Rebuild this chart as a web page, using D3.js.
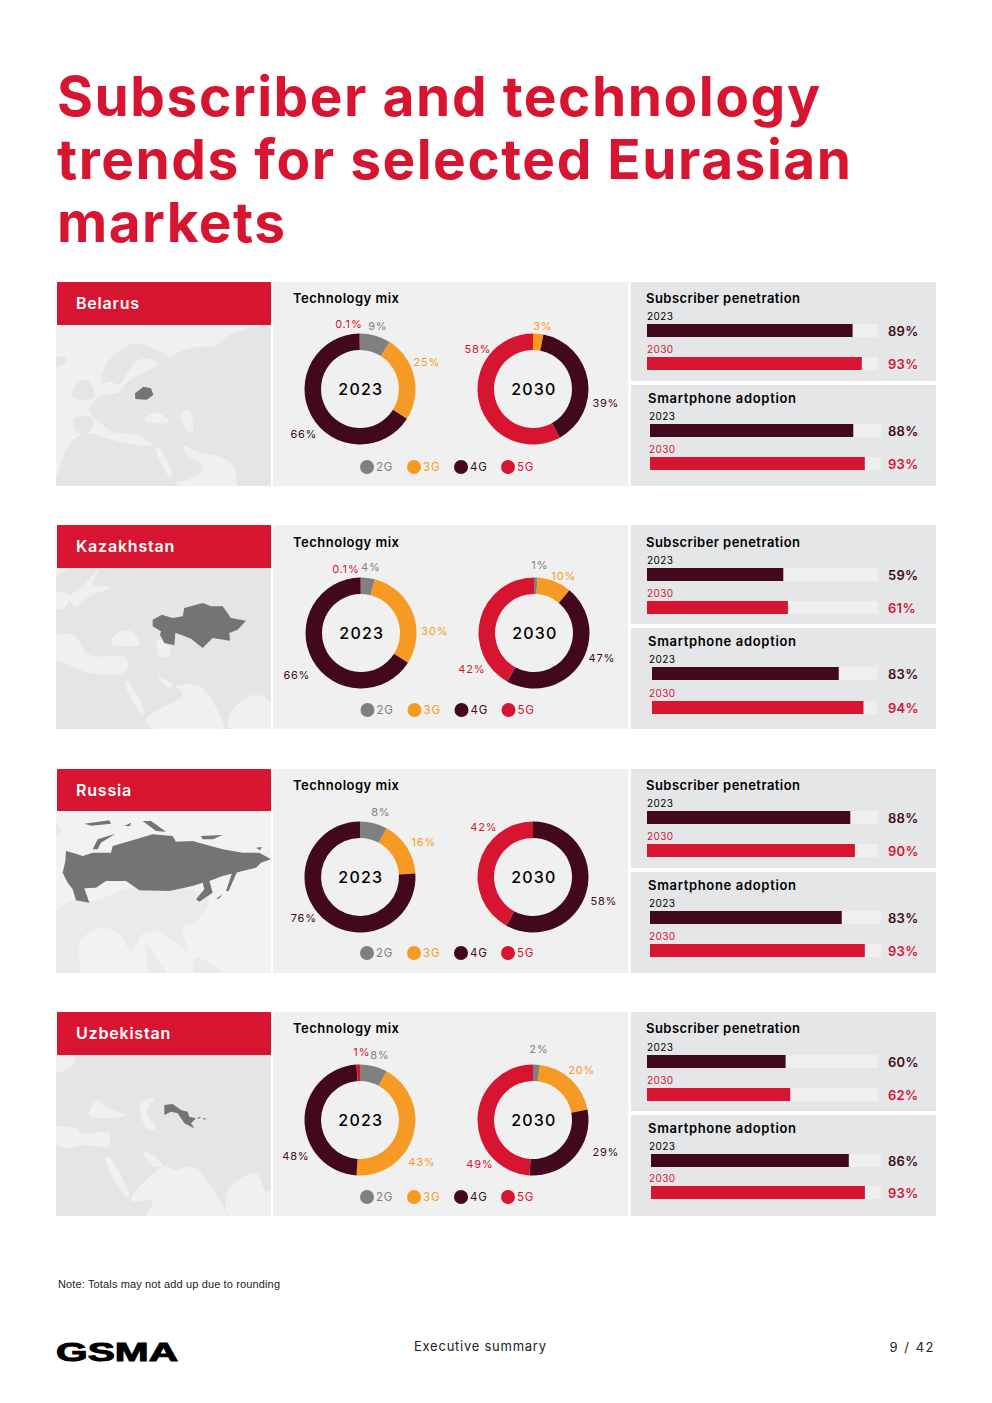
<!DOCTYPE html>
<html><head><meta charset="utf-8">
<script src="https://cdn.jsdelivr.net/npm/d3@7"></script>
<style>html,body{margin:0;padding:0;background:#fff}svg{display:block}text{font-family:Inter,"Noto Sans",sans-serif}</style>
</head><body><svg id="c" width="992" height="1403"></svg>
<script>
// ---- data ----
const titleLines = ["Subscriber and technology", "trends for selected Eurasian", "markets"];
const countries = ["Belarus", "Kazakhstan", "Russia", "Uzbekistan"];
const technologies = ["2G", "3G", "4G", "5G"];
const years = ["2023", "2030"];
const mix2023 = [[9, 25, 66, 0.1], [4, 30, 66, 0.1], [8, 16, 76, 0], [8, 43, 48, 1]];
const mix2030 = [[0, 3, 39, 58], [1, 10, 47, 42], [0, 0, 58, 42], [2, 20, 29, 49]];
const subscriber2023 = [89, 59, 88, 60];
const subscriber2030 = [93, 61, 90, 62];
const smartphone2023 = [88, 83, 83, 86];
const smartphone2030 = [93, 94, 93, 93];

// ---- layout (positions only, no values) ----
const C = {red:"#D71530", dark:"#41091B", orange:"#F79A24", gray:"#808080", panel:"#F0F0F0", side:"#E5E6E8", track:"#EFEFF0", land:"#E5E5E5", sea:"#F0F0F0", country:"#747474"};
const techColor = d3.scaleOrdinal(technologies, [C.gray, C.orange, C.dark, C.red]);
const rowTop = [282, 525, 769, 1012];
const headerH = [43, 43, 42, 43];
const titleDY = [21, 22, 21, 21];
const donutX = [[360, 533], [361, 534], [360, 533], [360, 533]];
const donutDY = [107, 108, 108, 108];
const legendDY = [185, 185, 184, 185];
const subBarY = [[42, 75], [43, 76], [42, 75], [43, 76]];
const smartBarY = [[142, 175], [142, 176], [142, 175], [142, 174]];
const smartX = [[650, 881], [652, 877], [650, 881], [651, 881]];
const labelPos2023 = [
  [[17,-63],[66,-27],[-57,45],[-12,-65]],
  [[9,-66],[73,-2],[-65,42],[-16,-64]],
  [[20,-65],[63,-35],[-57,41],null],
  [[19,-65],[61,42],[-65,36],[1,-68]]];
const labelPos2030 = [
  [null,[9,-63],[72,14],[-56,-40]],
  [[5,-68],[29,-57],[67,25],[-63,36]],
  [null,null,[70,24],[-50,-50]],
  [[5,-71],[48,-50],[72,32],[-54,44]]];

// decorative base-map shapes, in 3x units of the map panel
const maps = [
 {bg:C.sea, landFill:"#E5E5E5", land:[
   "135,160 150,120 185,80 240,55 290,70 335,95 320,115 270,100 240,110 210,150 190,180 165,170 140,175",
   "100,255 130,215 190,200 215,170 250,150 300,125 340,95 400,70 480,60 520,30 600,5 660,0 660,500 555,500 530,420 490,395 440,385 380,365 400,395 440,420 430,445 350,470 300,370 240,330 170,320 130,290",
   "10,430 40,360 90,325 170,345 240,360 300,370 350,465 380,500 0,500",
   "50,215 65,170 95,165 115,215 85,225","55,280 110,280 100,320 60,322","-10,100 30,98 25,115 -10,125",
   "585,500 590,420 660,415 660,500"],
  sea:["265,285 300,262 340,290 300,295","375,265 400,258 410,320 392,315","395,45 430,5 455,5 420,50","380,365 395,365 425,395 400,395","300,370 310,370 350,455 340,455"],
  country:["237,205 250,195 262,185 285,190 292,210 272,224 238,222"]},
 {bg:C.land, landFill:C.land, land:[], sea:[
   "165,225 185,195 225,190 250,230 180,232","-10,210 50,200 100,260 210,270 210,310 100,315 40,290 -10,265",
   "305,215 340,235 340,265 310,265","205,340 215,340 265,435 255,435","305,325 350,350 345,360 320,345",
   "270,455 380,380 360,355 430,355 470,400 500,500 320,500","520,440 600,380 660,420 660,500 530,500",
   "85,50 130,0 110,50 165,58 100,85 60,115 40,90","-10,30 40,-10 -10,-10","-10,75 40,80 25,120 -10,122"],
  country:["290,155 318,140 350,150 380,145 385,120 440,105 465,115 500,115 525,150 570,158 545,185 520,195 522,218 470,210 440,240 405,212 375,200 358,195 355,232 325,225 312,200 315,190 290,175"]},
 {bg:"#F2F2F2", landFill:"#EAEAEA", land:[
   "-10,320 40,270 110,270 230,230 420,240 460,270 420,330 380,350 395,420 350,390 300,360 260,370 225,420 190,370 130,350 70,395 70,500 -10,500",
   "-10,30 20,60 -10,80","270,400 300,440 340,500 290,500","400,310 420,290 415,340","420,440 480,470 520,500 420,500"],
  sea:[],
  country:[
   "30,120 50,125 80,135 110,125 165,125 170,105 240,85 290,70 350,75 360,92 410,90 445,100 500,115 560,125 610,125 645,145 615,155 600,170 560,180 500,195 460,210 470,245 430,272 420,265 445,235 440,215 410,225 340,240 250,238 210,210 150,210 120,230 85,232 100,275 60,268 50,235 35,215 20,185 28,150",
   "110,115 125,85 178,68 135,95 125,115","85,38 160,28 165,38 105,44","260,30 285,30 330,62 300,60","435,75 500,72 470,85 440,85",
   "530,180 545,178 518,240 510,240","478,265 500,250 490,262","600,110 618,108 612,118","205,45 225,35 222,45"]},
 {bg:C.land, landFill:C.land, land:[], sea:[
   "100,180 125,135 150,155 205,180 170,190","255,145 295,130 270,170 300,220 275,225",
   "-10,220 60,220 75,235 160,235 155,275 90,270 30,280 -10,260","148,308 160,308 220,425 210,425","260,290 275,290 320,330 295,335",
   "225,435 330,330 350,345 410,335 455,380 505,465 510,500 270,500 290,440","515,405 600,355 630,410 660,400 660,500 525,500","-10,10 40,-5 60,15 20,50 -10,50"],
  country:["325,150 350,147 375,165 395,170 400,185 420,190 405,205 415,220 385,205 365,175 345,170 325,180","428,185 435,187 425,193","440,190 452,190 445,194"]}
];

// ---- draw ----
const svg = d3.select("#c");
const text = (g, x, y, s, o = {}) => {
  const t = g.append("text").attr("x", x).attr("y", y).text(s)
    .attr("font-size", o.size || 11).attr("font-weight", o.weight || 400)
    .attr("fill", o.fill || "#000").attr("text-anchor", o.anchor || "start");
  if (o.spacing) t.attr("letter-spacing", o.spacing);
  if (o.family) t.style("font-family", o.family);
  if (o.len) t.attr("textLength", o.len).attr("lengthAdjust", o.adjust || "spacing");
  return t;
};

const titleLen = [763, 794, 228];
titleLines.forEach((l, i) => text(svg, 57, 116 + i * 63, l, {size: 55, weight: 700, fill: C.red, len: titleLen[i]}));

const pie = d3.pie().sort(null).startAngle(0).endAngle(2 * Math.PI);
const arc = d3.arc().innerRadius(39).outerRadius(55.5);
const parsePts = p => p.split(" ").map(q => q.split(",").map(Number));
const smooth = d3.line().curve(d3.curveCatmullRomClosed.alpha(0.5));
const sharp = d3.line().curve(d3.curveLinearClosed);

countries.forEach((name, r) => {
  const top = rowTop[r];
  const g = svg.append("g");
  // map panel
  const m = maps[r];
  const mapY = top + headerH[r];
  const clipId = "clip" + r;
  svg.append("clipPath").attr("id", clipId).append("rect").attr("x", 56).attr("y", mapY).attr("width", 215).attr("height", 204 - headerH[r]);
  const mg = g.append("g").attr("clip-path", `url(#${clipId})`);
  mg.append("rect").attr("x", 56).attr("y", mapY).attr("width", 215).attr("height", 204 - headerH[r]).attr("fill", m.bg);
  const inner = mg.append("g").attr("transform", `translate(56,${mapY}) scale(${1/3})`);
  const draw = (list, fill, gen) => list.forEach(p => inner.append("path").attr("d", gen(parsePts(p))).attr("fill", fill));
  draw(m.land, m.landFill, smooth); draw(m.sea, C.sea, smooth); draw(m.country, C.country, sharp);
  g.append("rect").attr("x", 57).attr("y", top).attr("width", 214).attr("height", headerH[r]).attr("fill", C.red);
  text(g, 76, top + 27, name, {size: 16, weight: 600, fill: "#fff", spacing: 0.8});

  // technology panel
  g.append("rect").attr("x", 273).attr("y", top).attr("width", 355).attr("height", 204).attr("fill", C.panel);
  text(g, 293, top + titleDY[r], "Technology mix", {size: 13, weight: 600, len: 106});
  [mix2023[r], mix2030[r]].forEach((vals, y) => {
    const cx = donutX[r][y], cy = top + donutDY[r];
    const dg = g.append("g").attr("transform", `translate(${cx},${cy})`);
    dg.selectAll("path").data(pie(vals)).join("path").attr("d", arc).attr("fill", (d, i) => techColor(technologies[i]));
    text(dg, 0.8, 6, years[y], {size: 16, weight: 500, anchor: "middle", spacing: 1.2});
    const pos = (y ? labelPos2030 : labelPos2023)[r];
    vals.forEach((v, i) => {
      if (!v || !pos[i]) return;
      text(dg, pos[i][0] + 0.8, pos[i][1] + 4, v + "%", {size: 11, fill: techColor(technologies[i]), anchor: "middle", spacing: 0.8});
    });
  });
  // legend
  const ly = top + legendDY[r];
  const lx0 = r === 1 ? 367.5 : 367;
  technologies.forEach((t, i) => {
    g.append("circle").attr("cx", lx0 + i * 47).attr("cy", ly).attr("r", 7).attr("fill", techColor(t));
    text(g, lx0 + i * 47 + 9, ly + 4, t, {size: 11.5, fill: techColor(t), spacing: 0.8});
  });

  // right panels
  g.append("rect").attr("x", 631).attr("y", top).attr("width", 305).attr("height", 99).attr("fill", C.side);
  g.append("rect").attr("x", 631).attr("y", top + 103).attr("width", 305).attr("height", 101).attr("fill", C.side);
  const block = (title, tx, tyTitle, lx, xr, barYs, vals) => {
    const x = d3.scaleLinear().domain([0, 100]).range(xr);
    text(g, tx, tyTitle, title, {size: 13, weight: 600, len: title.length > 20 ? 154 : 148});
    vals.forEach((v, i) => {
      const by = top + barYs[i], col = i ? C.red : C.dark;
      g.append("rect").attr("x", x(0)).attr("y", by).attr("width", x(100) - x(0)).attr("height", 13).attr("fill", C.track);
      g.append("rect").attr("x", x(0)).attr("y", by).attr("width", x(v) - x(0)).attr("height", 13).attr("fill", col);
      text(g, lx, by - 4, years[i], {size: 10, fill: i ? C.red : "#000", spacing: 0.4});
      text(g, 888, by + 11.5, v + "%", {size: 13, weight: 600, fill: col, spacing: 0.3});
    });
  };
  block("Subscriber penetration", 646, top + titleDY[r], 647, [647, 878], subBarY[r], [subscriber2023[r], subscriber2030[r]]);
  block("Smartphone adoption", 648, top + 121, 649, smartX[r], smartBarY[r], [smartphone2023[r], smartphone2030[r]]);
});

// footer
text(svg, 58, 1288, "Note: Totals may not add up due to rounding", {size: 11, fill: "#222", len: 222, family: "Liberation Sans"});
text(svg, 56, 1361, "GSMA", {size: 26, weight: 700, fill: "#000", len: 122, adjust: "spacingAndGlyphs", family: "Liberation Sans"}).attr("stroke", "#000").attr("stroke-width", 1);
text(svg, 414, 1351, "Executive summary", {size: 13, fill: "#222", len: 132});
text(svg, 935, 1352, "9 / 42", {size: 13, fill: "#222", anchor: "end", spacing: 1.5});
</script></body></html>
